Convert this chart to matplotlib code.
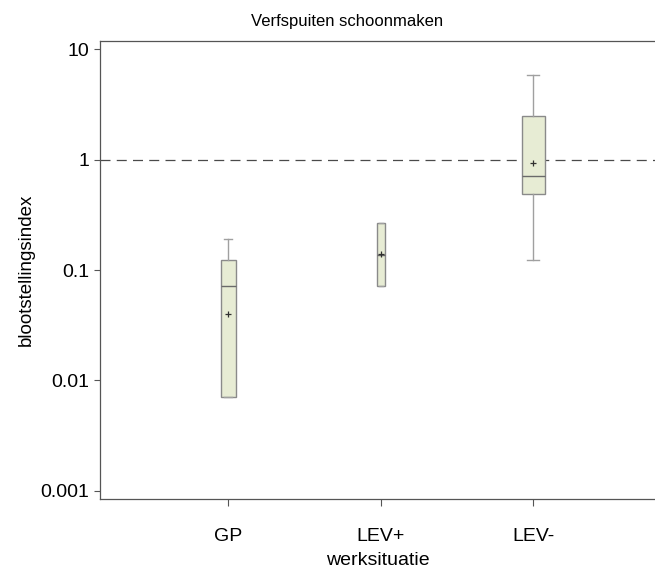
import matplotlib.pyplot as plt

plt.rcParams['font.family'] = ['Liberation Sans', 'DejaVu Sans']

# data
groups = ['GP', 'LEV+', 'LEV-']
whis_low = [0.00706, 0.0711, 0.122]
q1 = [0.00706, 0.0711, 0.485]
median = [0.0716, 0.136, 0.711]
q3 = [0.123, 0.265, 2.49]
whis_high = [0.191, 0.265, 5.8]
mean = [0.040, 0.139, 0.937]
box_widths = [0.098, 0.052, 0.151]

stats = []
for i in range(len(groups)):
    stats.append({'label': groups[i], 'whislo': whis_low[i], 'q1': q1[i],
                  'med': median[i], 'q3': q3[i], 'whishi': whis_high[i],
                  'mean': mean[i], 'fliers': []})

fig = plt.figure(figsize=(6.55, 5.7), dpi=100)
ax = fig.add_axes([0.1527, 0.124, 0.8473, 0.804])

ax.axhline(1, color='#4a4a4a', lw=0.9, dashes=(8, 5), zorder=1)

ax.bxp(stats, positions=[1, 2, 3], widths=box_widths, showmeans=True,
       patch_artist=True, capwidths=[w * 0.5 for w in box_widths],
       boxprops=dict(facecolor='#e7ecd4', edgecolor='#8a8a8a', lw=1.0),
       whiskerprops=dict(color='#a0a0a0', lw=1.0),
       capprops=dict(color='#a0a0a0', lw=1.0),
       medianprops=dict(color='#6a6a6a', lw=1.0),
       meanprops=dict(marker='+', markeredgecolor='#303030', markersize=5,
                      markeredgewidth=0.9),
       zorder=2)

ax.set_yscale('log')
ax.set_ylim(0.000835, 11.9)
ax.set_xlim(0.16, 3.80)
ax.set_yticks([0.001, 0.01, 0.1, 1, 10])
ax.set_yticklabels(['0.001', '0.01', '0.1', '1', '10'])
ax.minorticks_off()
ax.set_xticks([1, 2, 3])
ax.set_xticklabels(groups)

for s in ['left', 'bottom', 'top']:
    ax.spines[s].set_color('#555555')
    ax.spines[s].set_linewidth(0.9)
ax.spines['right'].set_visible(False)

ax.tick_params(axis='y', length=4, width=0.8, color='#555555', labelsize=14, pad=4)
ax.tick_params(axis='x', length=5, width=0.8, color='#555555', labelsize=14, pad=16)

ax.set_xlabel('werksituatie', fontsize=14, labelpad=5)
ax.set_ylabel('blootstellingsindex', fontsize=13.5, labelpad=4)
fig.text(0.53, 0.963, 'Verfspuiten schoonmaken', ha='center', va='center', fontsize=12)

fig.savefig('out.png', dpi=100)
